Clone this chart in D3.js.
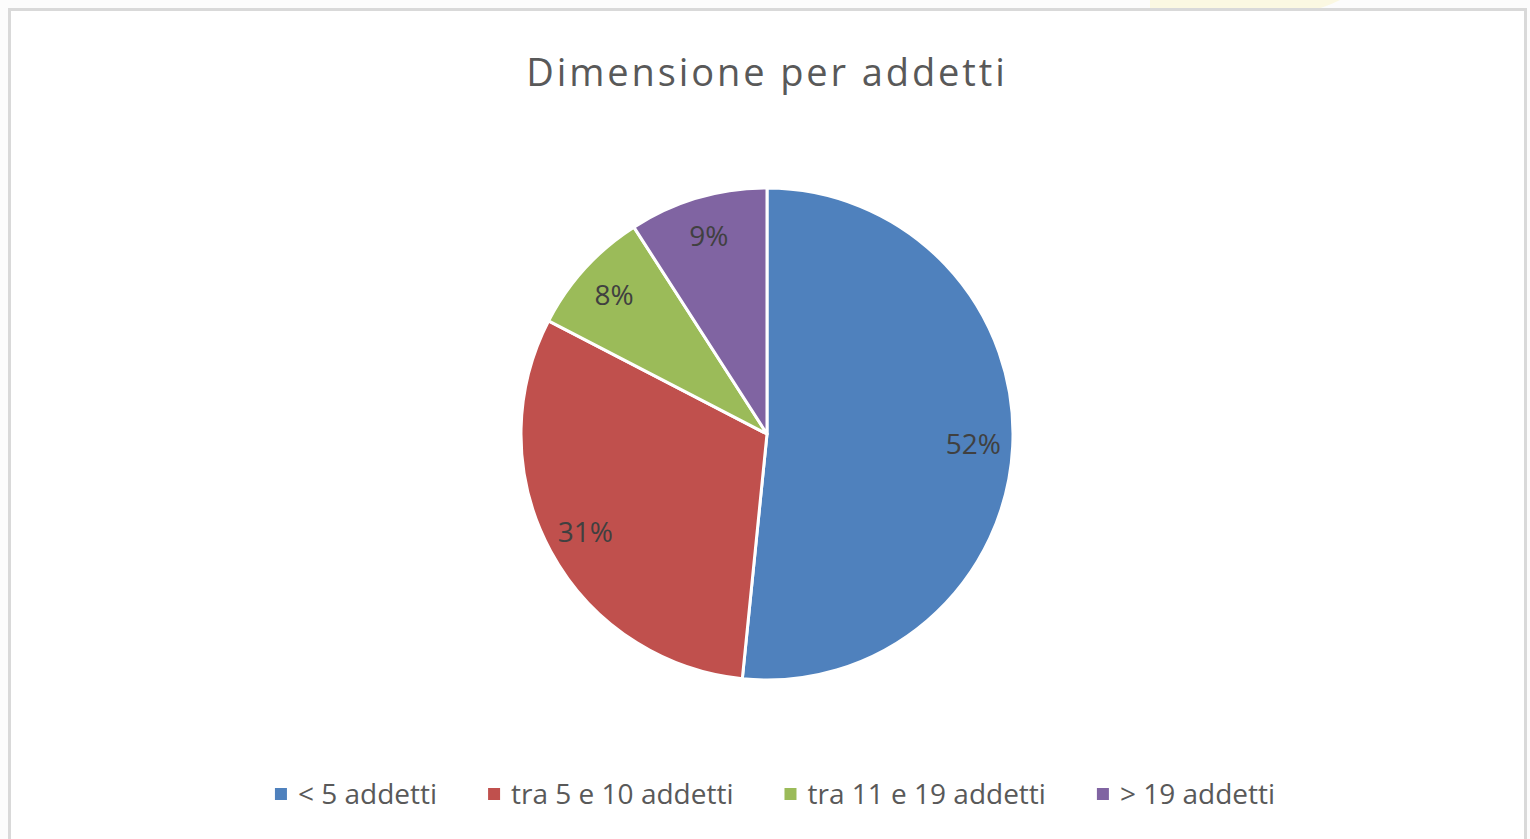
<!DOCTYPE html>
<html>
<head>
<meta charset="utf-8">
<script src="https://cdn.jsdelivr.net/npm/d3@7"></script>
<style>
  html, body { margin: 0; padding: 0; background: #fcfcfc; }
  #chart { width: 1530px; height: 839px; }
  text { font-family: "Open Sans", "Noto Sans", sans-serif; fill: #595959; }
</style>
</head>
<body>
<div id="chart"></div>
<script>
// data (percent shares)
const categories = ["< 5 addetti", "tra 5 e 10 addetti", "tra 11 e 19 addetti", "> 19 addetti"];
const values = [51.6, 31.0, 8.3, 9.1];
const colors = ["#4F81BD", "#C0504D", "#9BBB59", "#8064A2"];
const title = "Dimensione per addetti";

const width = 1530, height = 839;
const cx = 767, cy = 434, radius = 246;

const svg = d3.select("#chart").append("svg")
    .attr("width", width)
    .attr("height", height);

// faint background decoration outside the frame
svg.append("path")
    .attr("d", "M1150,0 L1340,0 Q1300,20 1250,14 L1150,14 Z")
    .attr("fill", "#fbf8e2");

// chart frame
svg.append("rect")
    .attr("x", 9.5)
    .attr("y", 9.5)
    .attr("width", 1516)
    .attr("height", 850)
    .attr("fill", "#ffffff")
    .attr("stroke", "#d9d9d9")
    .attr("stroke-width", 3);

svg.append("text")
    .attr("x", cx)
    .attr("y", 86)
    .attr("text-anchor", "middle")
    .style("font-size", "38px")
    .style("letter-spacing", "2.9px")
    .text(title);

const color = d3.scaleOrdinal().domain(categories).range(colors);

const pie = d3.pie().sort(null).value(d => d.value);
const arcs = pie(categories.map((c, i) => ({ name: c, value: values[i] })));

const arc = d3.arc().innerRadius(0).outerRadius(radius);
const labelArc = d3.arc().innerRadius(radius * 0.84).outerRadius(radius * 0.84);

const g = svg.append("g").attr("transform", "translate(" + cx + "," + cy + ")");

g.selectAll(".slice")
    .data(arcs)
    .enter()
    .append("path")
    .attr("class", "slice")
    .attr("d", arc)
    .attr("fill", d => color(d.data.name))
    .attr("stroke", "#ffffff")
    .attr("stroke-width", 3)
    .attr("stroke-linejoin", "round");

const total = d3.sum(values);
g.selectAll(".lbl")
    .data(arcs)
    .enter()
    .append("text")
    .attr("class", "lbl")
    .attr("transform", d => "translate(" + labelArc.centroid(d) + ")")
    .attr("text-anchor", "middle")
    .attr("dy", "0.35em")
    .style("font-size", "28px")
    .style("fill", "#404040")
    .text(d => Math.round(d.data.value / total * 100) + "%");

// legend
const legend = svg.append("g");
const items = legend.selectAll(".item")
    .data(categories)
    .enter()
    .append("g")
    .attr("class", "item");

items.append("rect")
    .attr("width", 12)
    .attr("height", 12)
    .attr("y", -6)
    .attr("fill", d => color(d));

items.append("text")
    .attr("x", 23)
    .attr("dy", "0.35em")
    .style("font-size", "28px")
    .text(d => d);

let xPos = 0;
items.each(function () {
  const w = this.getBBox().width;
  d3.select(this).attr("transform", "translate(" + xPos + ",0)");
  xPos += w + 51;
});
const legendWidth = xPos - 51;
legend.attr("transform", "translate(" + (775 - legendWidth / 2) + ",794)");
</script>
</body>
</html>
